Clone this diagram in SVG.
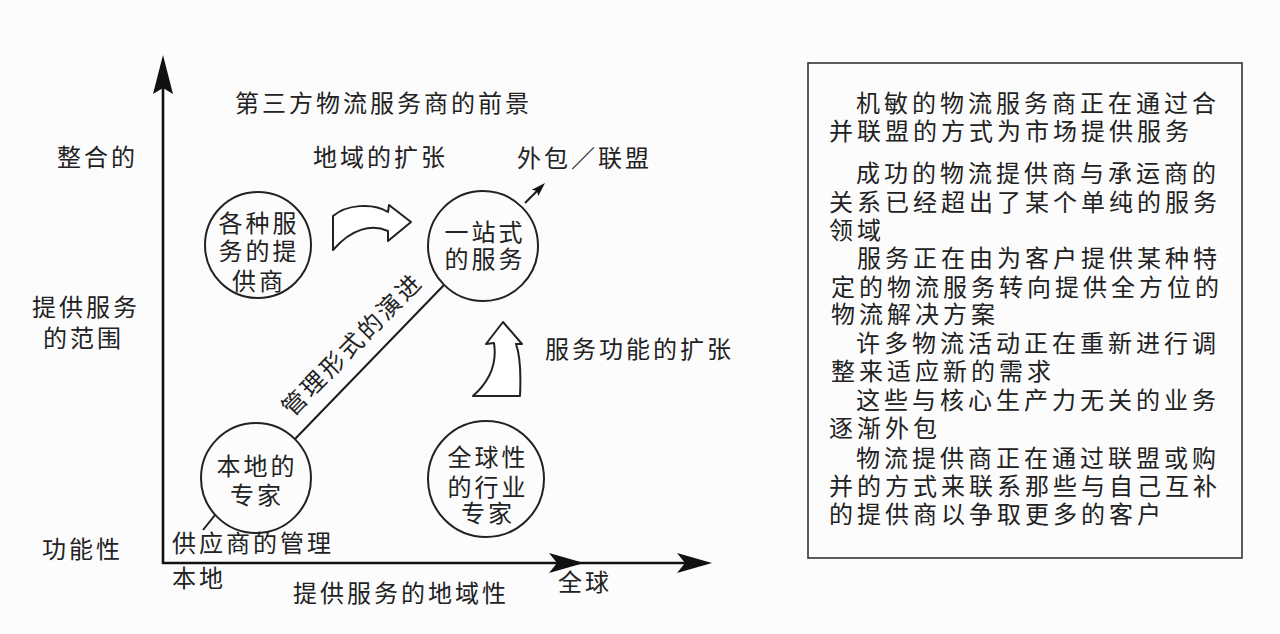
<svg xmlns="http://www.w3.org/2000/svg" width="1280" height="634" viewBox="0 0 1280 634">
<style>
  text { font-family: "Noto Sans CJK SC", "Noto Sans", sans-serif; font-size: 24px; fill: #222; letter-spacing: 3px; }
  .c { text-anchor: middle; }
  .box text { letter-spacing: 4px; }
  .node circle { fill: none; stroke: #222; stroke-width: 2; }
  .ln { stroke: #1a1a1a; stroke-width: 2; fill: none; }
  .axis { stroke: #111; stroke-width: 2.6; fill: none; }
  .head { fill: #111; stroke: none; }
  .fat { fill: #fff; stroke: #222; stroke-width: 2; stroke-linejoin: round; }
</style>
<defs>
  <path id="ah" d="M0,0 L-35,-10 L-27,0 L-35,10 Z"/>
</defs>
<rect width="1280" height="634" fill="#fcfcfd"/>

<g id="axes">
  <line class="axis" x1="163" y1="80" x2="163" y2="564"/>
  <line class="axis" x1="162" y1="563" x2="700" y2="563"/>
  <path class="head" d="M163,55 L173,94 L163,88 L153,94 Z"/>
  <use href="#ah" class="head" transform="translate(584,563)"/>
  <use href="#ah" class="head" transform="translate(712,563)"/>
</g>

<g id="labels">
  <text x="235" y="112">第三方物流服务商的前景</text>
  <text x="313" y="166">地域的扩张</text>
  <text x="517" y="167">外包／联盟</text>
  <text x="57" y="166">整合的</text>
  <text x="32" y="316">提供服务</text>
  <text x="43" y="347">的范围</text>
  <text x="42" y="558">功能性</text>
  <text x="172" y="552">供应商的管理</text>
  <text x="172" y="587">本地</text>
  <text x="293" y="602">提供服务的地域性</text>
  <text x="558" y="591">全球</text>
  <text x="545" y="358">服务功能的扩张</text>
  <text transform="translate(352,344) rotate(-45.5)" class="c" x="0" y="9">管理形式的演进</text>
</g>

<g id="connectors">
  <line class="ln" x1="295" y1="439" x2="444" y2="285"/>
  <line class="ln" x1="203" y1="530" x2="215" y2="515"/>
  <line class="ln" x1="525" y1="203" x2="538" y2="190"/>
  <path class="head" d="M545,183 L538.3,196.1 L537,191 L531.9,189.7 Z"/>
  <path id="arrow-right" class="fat" d="M333,250 L333,216 C346,205 372,202 388,212 L389,205 L411,222 L388,241 L388,231 C372,224 352,228 333,250 Z"/>
  <path id="arrow-up" class="fat" d="M503,322 L486,344 L494,343 C497,362 491,380 473,396 L520,396 C521,375 520,355 516,344 L522,344 Z"/>
</g>

<g id="node-various" class="node">
  <circle cx="258" cy="245" r="53"/>
  <text class="c" x="259" y="232">各种服</text>
  <text class="c" x="259" y="260">务的提</text>
  <text class="c" x="259" y="290">供商</text>
</g>
<g id="node-onestop" class="node">
  <circle cx="483" cy="246" r="55"/>
  <text class="c" x="485" y="241">一站式</text>
  <text class="c" x="485" y="268">的服务</text>
</g>
<g id="node-local" class="node">
  <circle cx="256" cy="478" r="55"/>
  <text class="c" x="257" y="475">本地的</text>
  <text class="c" x="257" y="504">专家</text>
</g>
<g id="node-global" class="node">
  <circle cx="486" cy="479" r="58"/>
  <text class="c" x="488" y="466">全球性</text>
  <text class="c" x="488" y="496">的行业</text>
  <text class="c" x="488" y="522">专家</text>
</g>

<g id="textbox" class="box">
  <rect x="808" y="63" width="434" height="495" fill="none" stroke="#333" stroke-width="1.6"/>
  <text x="856" y="112">机敏的物流服务商正在通过合</text>
  <text x="829" y="140">并联盟的方式为市场提供服务</text>
  <text x="856" y="182">成功的物流提供商与承运商的</text>
  <text x="829" y="211">关系已经超出了某个单纯的服务</text>
  <text x="829" y="239">领域</text>
  <text x="857" y="267">服务正在由为客户提供某种特</text>
  <text x="831" y="296">定的物流服务转向提供全方位的</text>
  <text x="831" y="323">物流解决方案</text>
  <text x="856" y="352">许多物流活动正在重新进行调</text>
  <text x="831" y="380">整来适应新的需求</text>
  <text x="856" y="409">这些与核心生产力无关的业务</text>
  <text x="829" y="437">逐渐外包</text>
  <text x="856" y="467">物流提供商正在通过联盟或购</text>
  <text x="829" y="495">并的方式来联系那些与自己互补</text>
  <text x="829" y="523">的提供商以争取更多的客户</text>
</g>
</svg>
